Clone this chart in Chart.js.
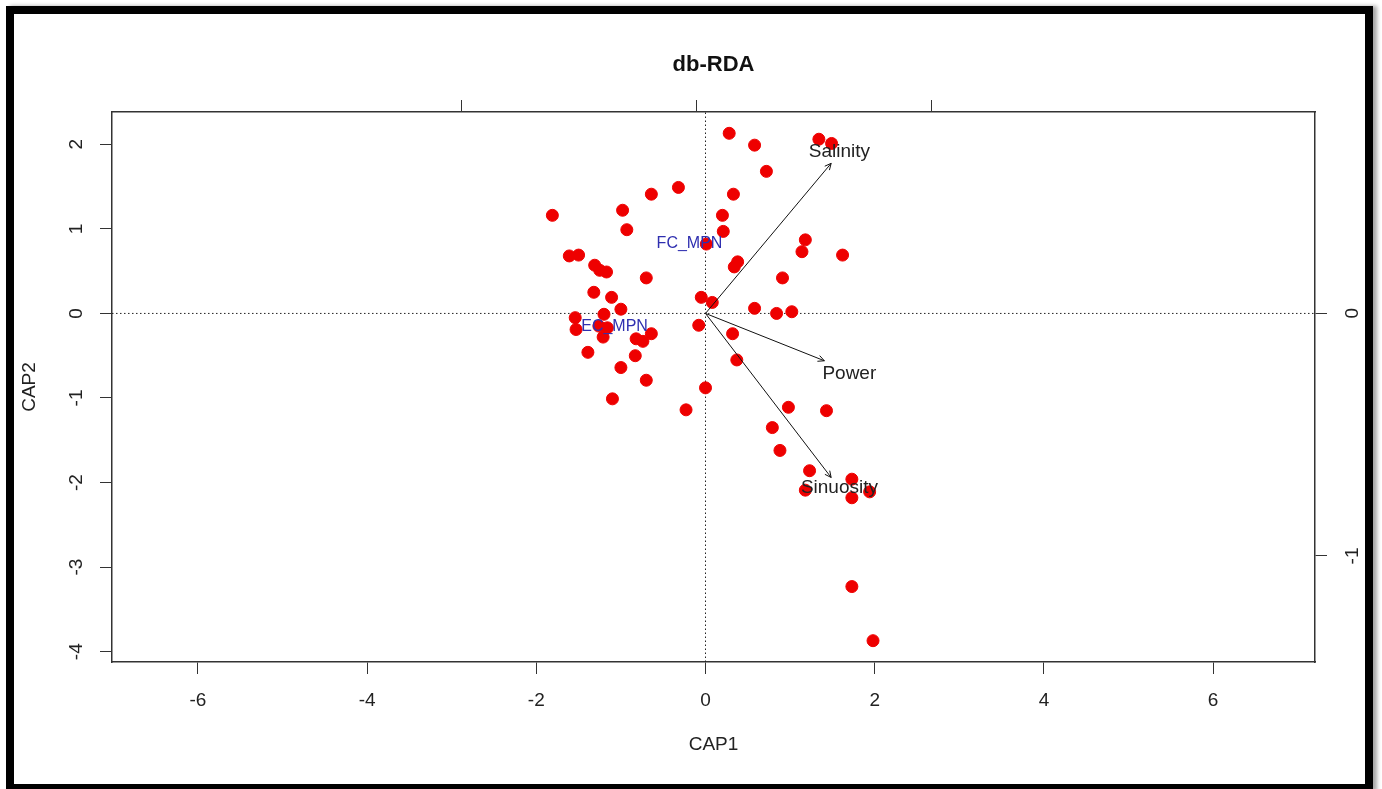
<!DOCTYPE html>
<html>
<head>
<meta charset="utf-8">
<script src="https://cdn.jsdelivr.net/npm/chart.js@4.4.1/dist/chart.umd.min.js"></script>
<style>
html, body { margin: 0; padding: 0; background: #fff; overflow: hidden; }
#wrap { position: relative; width: 1382px; height: 789px; }
#c { position: absolute; left: 0; top: 0; }
#frame {
  position: absolute; left: 6px; top: 6px; width: 1367px; height: 786px;
  border: 8px solid #000; box-sizing: border-box; pointer-events: none;
  box-shadow: 4px 0 4px rgba(0, 0, 0, 0.35);
}
</style>
</head>
<body>
<div id="wrap">
  <canvas id="c" width="1382" height="789"></canvas>
  <div id="frame"></div>
</div>
<script>
// site scores (CAP1, CAP2)
var siteX = [0.28, 0.58, 1.34, 1.49, 0.72, -0.32, -0.64, 0.33, -1.81, -0.98, 0.20, -0.93, 0.21, 0.01, 1.18, 1.14,
  1.62, -1.61, -1.50, 0.38, 0.34, -1.31, -1.25, -1.17, -0.70, 0.91, -1.32, -1.11, -0.05, 0.08, -1.00, 0.58,
  0.84, 1.02, -1.54, -1.20, -1.53, -1.26, -1.16, -1.21, -0.82, -0.74, -0.64, -0.08, 0.32, -1.39, -0.83, 0.37,
  -1.00, -0.70, 0.00, -1.10, -0.23, 0.98, 1.43, 0.79, 0.88, 1.23, 1.73, 1.18, 1.73, 1.94, 1.73, 1.98];
var siteY = [2.13, 1.99, 2.06, 2.01, 1.68, 1.49, 1.41, 1.41, 1.16, 1.22, 1.16, 0.99, 0.97, 0.82, 0.87, 0.73,
  0.69, 0.68, 0.69, 0.61, 0.55, 0.57, 0.51, 0.49, 0.42, 0.42, 0.25, 0.19, 0.19, 0.13, 0.05, 0.06,
  0.00, 0.02, -0.05, -0.01, -0.19, -0.15, -0.17, -0.28, -0.30, -0.33, -0.24, -0.14, -0.24, -0.46, -0.50, -0.55,
  -0.64, -0.79, -0.88, -1.01, -1.14, -1.11, -1.15, -1.35, -1.62, -1.86, -1.96, -2.09, -2.18, -2.11, -3.23, -3.87];

// biplot arrows
var envNames = ['Salinity', 'Power', 'Sinuosity'];
var envX = [1.485, 1.405, 1.485];
var envY = [1.775, -0.56, -1.94];
var envLabelX = [1.583, 1.70, 1.583];
var envLabelY = [1.909, -0.717, -2.065];

// factor centroids
var centNames = ['FC_MPN', 'EC_MPN'];
var centX = [-0.189, -1.075];
var centY = [0.82, -0.16];

var xTicks = [-6, -4, -2, 0, 2, 4, 6];
var yTicks = [-4, -3, -2, -1, 0, 1, 2];
var topTicks = [-1, 0, 1];
var rightTicks = [-1, 0];
var xRange = [-7.015, 7.204];
var yRange = [-4.122, 2.382];
var topRange = [-2.488, 2.631];
var rightRange = [-1.437, 0.829];

var FONT = '"Liberation Sans", Arial, sans-serif';
var INK = '#222';
var AXIS = '#333';

function fixTicks(list) {
  return function (s) { s.ticks = list.map(function (v) { return { value: v }; }); };
}

var sites = siteX.map(function (x, i) { return { x: x, y: siteY[i] }; });

var datasets = [{
  label: 'sites',
  data: sites,
  pointRadius: 6,
  pointHoverRadius: 6,
  backgroundColor: '#ee0000',
  borderColor: '#ee0000',
  borderWidth: 1,
  order: 1
}, {
  label: 'h0',
  data: [{ x: xRange[0], y: 0 }, { x: xRange[1], y: 0 }],
  showLine: true, pointRadius: 0, borderColor: INK, borderWidth: 1,
  borderDash: [1.5, 2.5], order: 2
}, {
  label: 'v0',
  data: [{ x: 0, y: yRange[0] }, { x: 0, y: yRange[1] }],
  showLine: true, pointRadius: 0, borderColor: INK, borderWidth: 1,
  borderDash: [1.5, 2.5], order: 2
}];

envNames.forEach(function (n, i) {
  datasets.push({
    label: n,
    data: [{ x: 0, y: 0 }, { x: envX[i], y: envY[i] }],
    showLine: true, pointRadius: 0, borderColor: '#111', borderWidth: 1, order: 0
  });
});

datasets.forEach(function (d) { d.xAxisID = 'x'; d.yAxisID = 'y'; });

var overlay = {
  id: 'overlay',
  afterDatasetsDraw: function (chart) {
    var ctx = chart.ctx, sx = chart.scales.x, sy = chart.scales.y;
    var ox = sx.getPixelForValue(0), oy = sy.getPixelForValue(0);
    ctx.save();
    // arrow heads
    ctx.strokeStyle = '#111';
    ctx.lineWidth = 1;
    envNames.forEach(function (n, i) {
      var px = sx.getPixelForValue(envX[i]), py = sy.getPixelForValue(envY[i]);
      var a = Math.atan2(py - oy, px - ox), len = 7, w = 0.45;
      ctx.beginPath();
      ctx.moveTo(px - len * Math.cos(a - w), py - len * Math.sin(a - w));
      ctx.lineTo(px, py);
      ctx.lineTo(px - len * Math.cos(a + w), py - len * Math.sin(a + w));
      ctx.stroke();
    });
    ctx.textAlign = 'center';
    ctx.textBaseline = 'middle';
    ctx.fillStyle = INK;
    ctx.font = '19px ' + FONT;
    envNames.forEach(function (n, i) {
      ctx.fillText(n, sx.getPixelForValue(envLabelX[i]), sy.getPixelForValue(envLabelY[i]));
    });
    ctx.fillStyle = '#2f2fb0';
    ctx.font = '16px ' + FONT;
    centNames.forEach(function (n, i) {
      ctx.fillText(n, sx.getPixelForValue(centX[i]), sy.getPixelForValue(centY[i]));
    });
    ctx.restore();
  }
};

var tickFont = { family: FONT, size: 19 };
var gridOpts = { drawOnChartArea: false, tickLength: 12, tickColor: AXIS, tickWidth: 1 };
var borderOpts = { display: true, color: AXIS, width: 1.5 };

var ctx = document.getElementById('c').getContext('2d');
var chart = new Chart(ctx, {
  type: 'scatter',
  data: { datasets: datasets },
  options: {
    responsive: false,
    maintainAspectRatio: false,
    animation: false,
    layout: { padding: 0 },
    plugins: { legend: { display: false }, tooltip: { enabled: false } },
    scales: {
      x: {
        type: 'linear', axis: 'x', position: 'bottom', min: xRange[0], max: xRange[1],
        afterBuildTicks: fixTicks(xTicks),
        afterFit: function (s) { s.height = 127; },
        grid: gridOpts, border: borderOpts,
        ticks: { font: tickFont, color: INK, padding: 15, autoSkip: false, minRotation: 0, maxRotation: 0,
          callback: function (v) { return String(v); } },
        title: { display: true, text: 'CAP1', font: { family: FONT, size: 19 }, color: INK,
          padding: { top: 0, bottom: 32.6 } }
      },
      y: {
        type: 'linear', axis: 'y', position: 'left', min: yRange[0], max: yRange[1],
        afterBuildTicks: fixTicks(yTicks),
        afterFit: function (s) { s.width = 112; },
        grid: gridOpts, border: borderOpts,
        ticks: { font: tickFont, color: INK, padding: 15, autoSkip: false, minRotation: 90, maxRotation: 90,
          crossAlign: 'center', callback: function (v) { return String(v); } },
        title: { display: true, text: 'CAP2', font: { family: FONT, size: 19 }, color: INK,
          padding: { top: 18.6, bottom: 0 } }
      },
      x2: {
        type: 'linear', axis: 'x', position: 'top', min: topRange[0], max: topRange[1],
        afterBuildTicks: fixTicks(topTicks),
        afterFit: function (s) { s.height = 112; },
        grid: gridOpts, border: borderOpts,
        ticks: { font: tickFont, color: INK, padding: 4, autoSkip: false, minRotation: 0, maxRotation: 0,
          callback: function () { return ''; } },
        title: { display: true, text: 'db-RDA', font: { family: FONT, size: 22, weight: 'bold' }, color: '#111',
          padding: { top: 51.8, bottom: 0 } }
      },
      y2: {
        type: 'linear', axis: 'y', position: 'right', min: rightRange[0], max: rightRange[1],
        afterBuildTicks: fixTicks(rightTicks),
        afterFit: function (s) { s.width = 67; },
        grid: gridOpts, border: borderOpts,
        ticks: { font: tickFont, color: INK, padding: 17, autoSkip: false, minRotation: 90, maxRotation: 90,
          crossAlign: 'center', callback: function (v) { return String(v); } }
      }
    }
  },
  plugins: [overlay]
});
</script>
</body>
</html>
